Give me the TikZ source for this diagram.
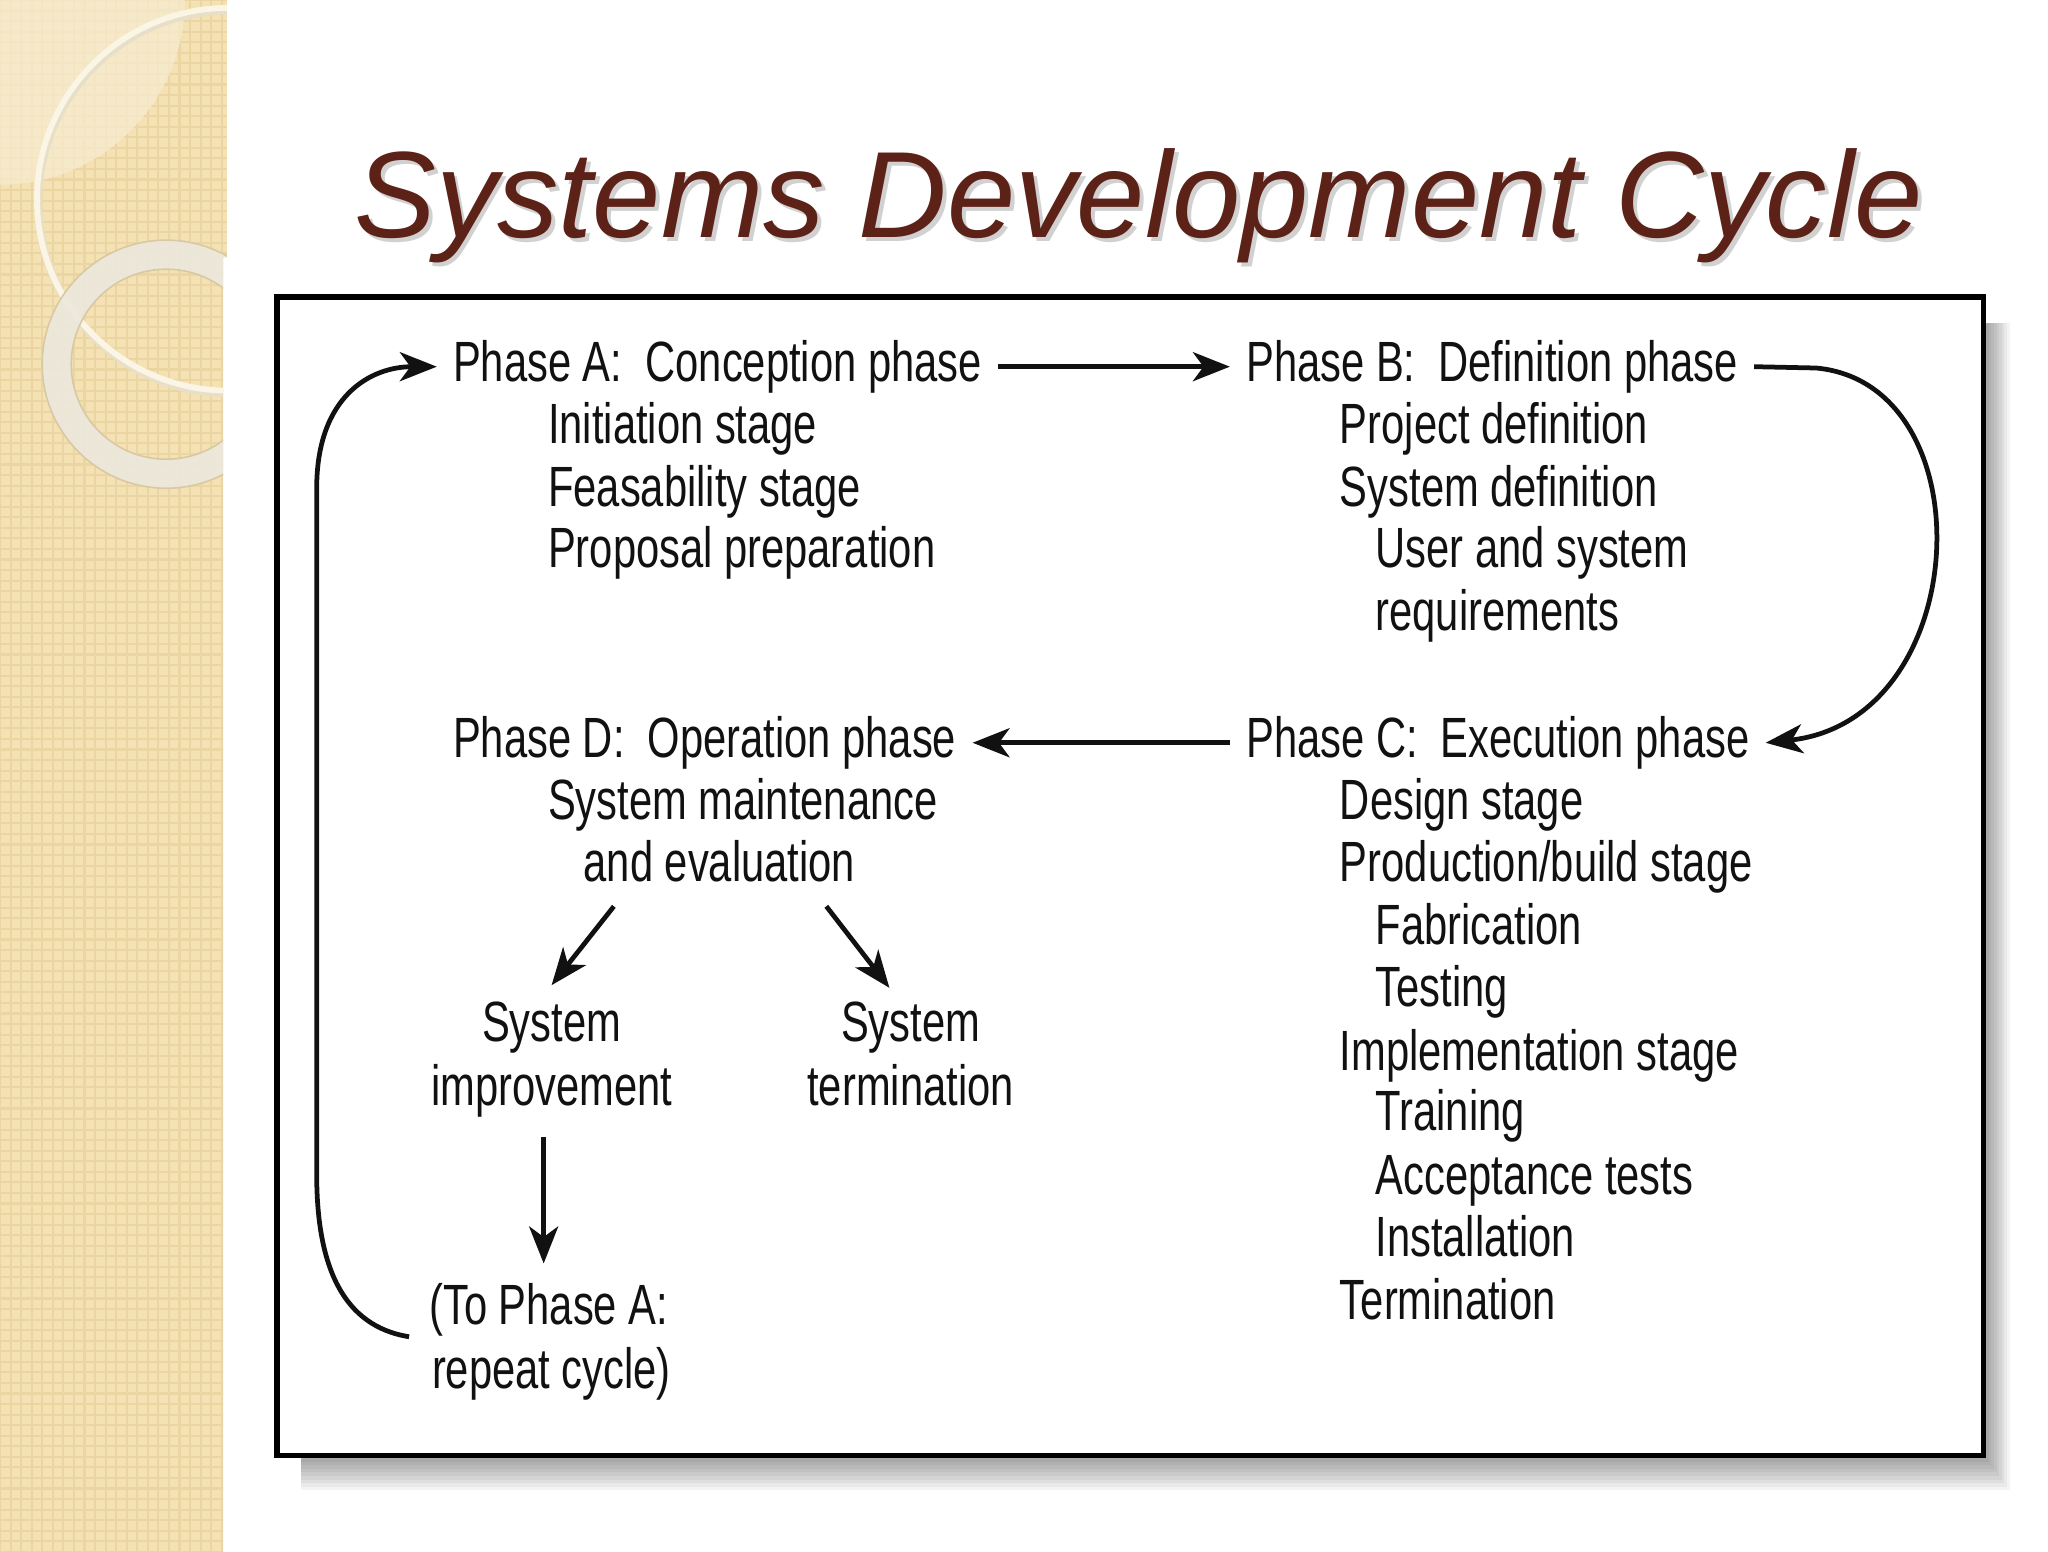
\documentclass[tikz,border=0pt]{standalone}
\usepackage{fontspec}
\setmainfont{Liberation Sans}
\newfontfamily\narrowfont[FakeStretch=0.735]{Liberation Sans}
\usetikzlibrary{arrows.meta,calc}
\definecolor{stripc}{HTML}{F4E2B4}
\definecolor{gridc}{HTML}{EBD6A3}
\definecolor{lightc}{HTML}{F8EDD2}
\definecolor{ringc}{HTML}{FBF5E6}
\definecolor{ringb}{HTML}{ECE8DD}
\definecolor{ringe}{HTML}{D8C9A4}
\definecolor{titlec}{HTML}{5C2117}
\definecolor{inkc}{HTML}{111111}
\begin{document}
\begin{tikzpicture}[x=0.5pt,y=-0.5pt,
  txt/.style={font=\narrowfont\fontsize{21.5pt}{24pt}\selectfont, inner sep=0pt, anchor=base west, text=inkc},
  hdr/.style={txt, inner xsep=6pt},
  ctr/.style={txt, anchor=base},
  arr/.style={-{Stealth[length=14pt,width=11pt,inset=4pt]}, line width=1.8pt, draw=inkc},
]
\useasboundingbox (0,0) rectangle (1552,1176);
\fill[white] (0,0) rectangle (1552,1176);
% left decorative strip
\begin{scope}
  \clip (0,0) -- (172,0) -- (172,195) -- (169,195) -- (169,1176) -- (0,1176) -- cycle;
  \fill[stripc] (0,0) rectangle (172,1176);
  \draw[gridc, line width=0.8pt, step=4pt] (0,0) grid (172,1176);
  \fill[lightc, opacity=0.7] (0,0) -- (140,0) arc[start angle=0, end angle=-90, radius=70pt] -- cycle;
  \draw[ringe!60, line width=3pt] (174,153) circle[radius=72.5pt];
  \draw[ringc, line width=2.2pt] (173,151) circle[radius=72.5pt];
  \fill[ringb, opacity=0.92, even odd rule] (126,276) circle[radius=47pt] (126,276) circle[radius=36pt];
  \draw[ringe, line width=0.6pt] (126,276) circle[radius=47pt] (126,276) circle[radius=36pt];
\end{scope}
% title
\node[anchor=base west, inner sep=0pt, font=\fontsize{46.5pt}{50pt}\selectfont\itshape, text=black, opacity=0.18] at (271,183) {Systems Development Cycle};
\node[anchor=base west, inner sep=0pt, font=\fontsize{46.5pt}{50pt}\selectfont\itshape, text=titlec] (title) at (268,180) {Systems Development Cycle};
% box shadow and box
\foreach \i in {0,...,9} {
  \fill[black, opacity=0.045] (228,245) rectangle ({1505+2*\i},{1105+2.7*\i});
}
\draw[line width=2pt, fill=white] (210,225) rectangle (1503,1103);
% Phase A
\node[hdr] (pa) at (331,289) {Phase A:\ \ Conception phase};
\node[txt] (pa1) at (415,336) {Initiation stage};
\node[txt] (pa2) at (415,384) {Feasability stage};
\node[txt] (pa3) at (415,430) {Proposal preparation};
% Phase B
\node[hdr] (pb) at (932,289) {Phase B:\ \ Definition phase};
\node[txt] (pb1) at (1015,336) {Project definition};
\node[txt] (pb2) at (1015,384) {System definition};
\node[txt] (pb3) at (1042,430) {User and system};
\node[txt] (pb4) at (1042,478) {requirements};
% Phase D
\node[hdr] (pd) at (331,574) {Phase D:\ \ Operation phase};
\node[txt] (pd1) at (415,621) {System maintenance};
\node[txt] (ev) at (442,668) {and evaluation};
% Phase C
\node[hdr] (pc) at (932,574) {Phase C:\ \ Execution phase};
\node[txt] (pc1) at (1015,621) {Design stage};
\node[txt] (pc2) at (1015,668) {Production/build stage};
\node[txt] (pc3) at (1042,716) {Fabrication};
\node[txt] (pc4) at (1042,763) {Testing};
\node[txt] (pc5) at (1015,811) {Implementation stage};
\node[txt] (pc6) at (1042,857) {Training};
\node[txt] (pc7) at (1042,905) {Acceptance tests};
\node[txt] (pc8) at (1042,952) {Installation};
\node[txt] (pc9) at (1015,1000) {Termination};
% outcomes
\node[ctr] (sysI) at (418,789) {System};
\node[ctr] (improv) at (418,838) {improvement};
\node[ctr] (sysT) at (690,789) {System};
\node[ctr] (termn) at (690,838) {termination};
\node[txt] (toA) at (325,1004) {(To Phase A:};
\node[txt] (toA2) at (327,1052) {repeat cycle)};
% connectors
\draw[arr] (pa.east) -- (pb.west);
\draw[arr] (pc.west) -- (pd.east);
\draw[arr] (pb.east) -- ++(47,1) .. controls +(130,12) and +(158,-17) .. (pc.east);
\draw[arr] ([shift={(-80,18)}]ev.south) -- ([shift={(0,-12)}]sysI.north);
\draw[arr] ([shift={(81,18)}]ev.south) -- ([shift={(-16,-10)}]sysT.north);
\draw[arr] ([shift={(-6,14)}]improv.south) -- ($(improv.south |- toA.north)+(-6,-15)$);
\draw[arr] ([shift={(-15,9)}]toA.base west) .. controls +(-50,-8) and +(0,70) .. (240,890) -- (240,370) .. controls +(0,-70) and +(-50,0) .. (pa.west);
\end{tikzpicture}
\end{document}
